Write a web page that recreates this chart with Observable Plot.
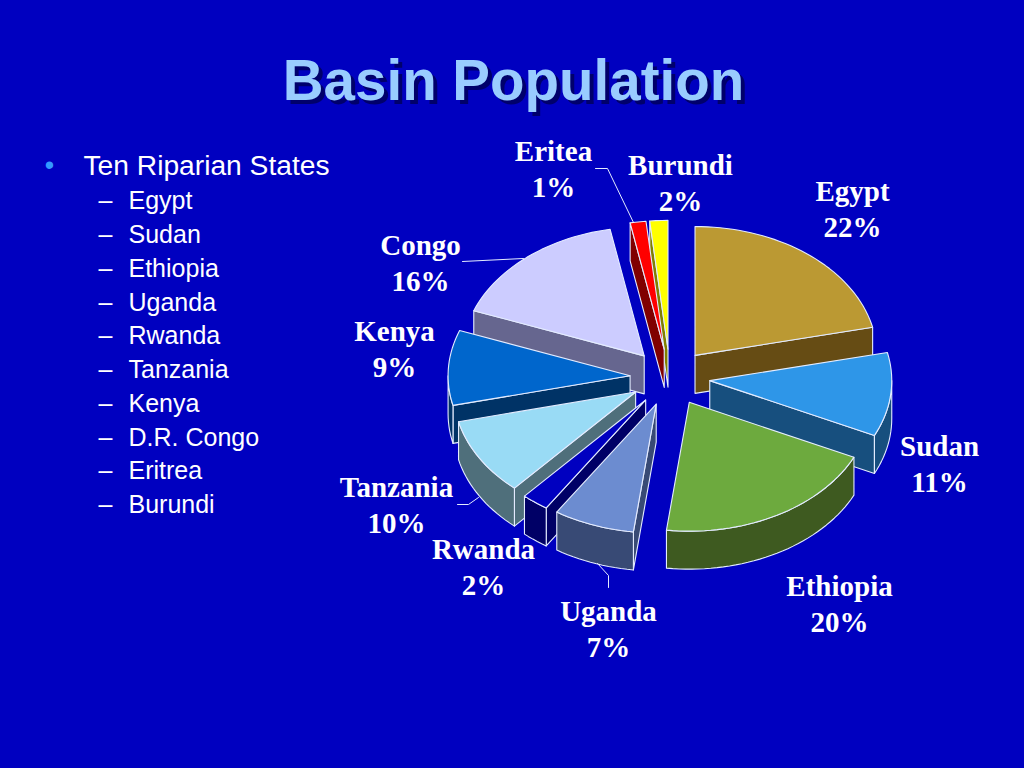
<!DOCTYPE html>
<html>
<head>
<meta charset="utf-8">
<script src="https://cdn.jsdelivr.net/npm/d3@7"></script>
<script src="https://cdn.jsdelivr.net/npm/@observablehq/plot@0.6"></script>
<style>
html,body{margin:0;padding:0;background:#0000C0;overflow:hidden}
svg{display:block}
</style>
</head>
<body>
<div id="chart"></div>
<script>
const countries = ["Egypt","Sudan","Ethiopia","Uganda","Rwanda","Tanzania","Kenya","Congo","Eritea","Burundi"];
const shares = [21.5,10.5,20.0,7.2,2.4,9.7,9.4,16.3,1.4,1.6];
const topColors = ["#BB9933","#2E96E8","#6DAA3E","#6C8CD0","#0000C0","#99DBF5","#0066CC","#CCCCFF","#FF0000","#FFFF00"];
const wallColors = ["#664C14","#174F7E","#3E5A20","#384A75","#000066","#4F6F7B","#003366","#66668F","#800000","#808000"];
const labelX = [852,939,839,608,483,396,394,420,553,680];
const labelY = [207,462,602,627,565,503,347,261,167,181];
const listHead = "Ten Riparian States";
const listItems = ["Egypt","Sudan","Ethiopia","Uganda","Rwanda","Tanzania","Kenya","D.R. Congo","Eritrea","Burundi"];
const listY = [200,234,268,302,335,369,403,437,470,504];
const leaderIds = ["a","a","a","b","b","c","c","c","d","d","d"];
const leaderX = [595,607,633,462,523,457,468,478,608,608,597];
const leaderY = [168,168,222,261,258,504,504,497,587,575,563];

// pie geometry
const cx = 669.5, cy = 377, R = 182, tilt = 0.708, depth = 38, explode = 40;
const rad = d => d * Math.PI / 180;
const total = d3.sum(shares);
let acc = 0;
const slices = countries.map((name, i) => {
  const a0 = acc * 360 / total; acc += shares[i]; const a1 = acc * 360 / total;
  const mid = (a0 + a1) / 2;
  return {i, name, a0, a1, mid,
    ax: cx + explode * Math.sin(rad(mid)),
    ay: cy - explode * tilt * Math.cos(rad(mid))};
});
const rim = (s, a, dz = 0) => ({x: s.ax + R * Math.sin(rad(a)), y: s.ay - R * tilt * Math.cos(rad(a)) + dz});
const arc = (s, a0, a1, dz = 0) => {
  const n = Math.max(1, Math.ceil((a1 - a0) / 2));
  return d3.range(n + 1).map(k => rim(s, a0 + (a1 - a0) * k / n, dz));
};
const points = [];
const addFace = (id, fill, pts) => pts.forEach(p => points.push({face: id, fill, x: p.x, y: p.y}));
[...slices].sort((p, q) => Math.cos(rad(q.mid)) - Math.cos(rad(p.mid))).forEach(s => {
  const wall = wallColors[s.i], A = {x: s.ax, y: s.ay}, B = {x: s.ax, y: s.ay + depth};
  if (s.a0 > 180) addFace(s.name + "-start", wall, [A, rim(s, s.a0), rim(s, s.a0, depth), B]);
  if (s.a1 < 180) addFace(s.name + "-end", wall, [A, rim(s, s.a1), rim(s, s.a1, depth), B]);
  const f0 = Math.max(s.a0, 90), f1 = Math.min(s.a1, 270);
  if (f1 > f0) addFace(s.name + "-outer", wall, [...arc(s, f0, f1), ...arc(s, f0, f1, depth).reverse()]);
  addFace(s.name + "-top", topColors[s.i], [A, ...arc(s, s.a0, s.a1)]);
});

const leaders = leaderIds.map((id, k) => ({id, x: leaderX[k], y: leaderY[k]}));
const labels = slices.map(s => ({x: labelX[s.i], y: labelY[s.i], t: s.name + "\n" + Math.round(shares[s.i]) + "%"}));
const items = listItems.map((t, k) => ({t, y: listY[k]}));
const sans = "Liberation Sans", serif = "Liberation Serif";

const chart = Plot.plot({
  width: 1024, height: 768, margin: 0,
  style: {background: "#0000C0"},
  x: {axis: null, domain: [0, 1024], range: [0, 1024]},
  y: {axis: null, domain: [0, 768], range: [0, 768]},
  color: {type: "identity"},
  marks: [
    Plot.text([{x: 513, y: 81}], {x: "x", y: "y", dx: 4, dy: 4, text: () => "Basin Population", fontFamily: sans, fontWeight: "bold", fontSize: 56.5, fill: "#00006B", textAnchor: "middle"}),
    Plot.text([{x: 513, y: 81}], {x: "x", y: "y", text: () => "Basin Population", fontFamily: sans, fontWeight: "bold", fontSize: 56.5, fill: "#99CCFF", textAnchor: "middle"}),
    Plot.text([{x: 49, y: 165}], {x: "x", y: "y", text: () => "•", fontFamily: sans, fontSize: 27, fill: "#3399FF", textAnchor: "middle"}),
    Plot.text([{x: 83, y: 165}], {x: "x", y: "y", text: () => listHead, fontFamily: sans, fontSize: 28.2, fill: "white", textAnchor: "start"}),
    Plot.text(items, {x: () => 98, y: "y", text: () => "–", fontFamily: sans, fontSize: 25, fill: "white", textAnchor: "start"}),
    Plot.text(items, {x: () => 128, y: "y", text: "t", fontFamily: sans, fontSize: 25, fill: "white", textAnchor: "start"}),
    Plot.line(points, {x: "x", y: "y", z: "face", fill: "fill", stroke: "#E4ECFF", strokeWidth: 1.1, curve: "linear-closed", strokeLinejoin: "round"}),
    Plot.line(leaders, {x: "x", y: "y", z: "id", stroke: "#E4ECFF", strokeWidth: 1}),
    Plot.text(labels, {x: "x", y: "y", text: "t", fontFamily: serif, fontWeight: "bold", fontSize: 29, lineHeight: 1.241, fill: "white", textAnchor: "middle"})
  ]
});
document.getElementById("chart").appendChild(chart);
</script>
</body>
</html>
